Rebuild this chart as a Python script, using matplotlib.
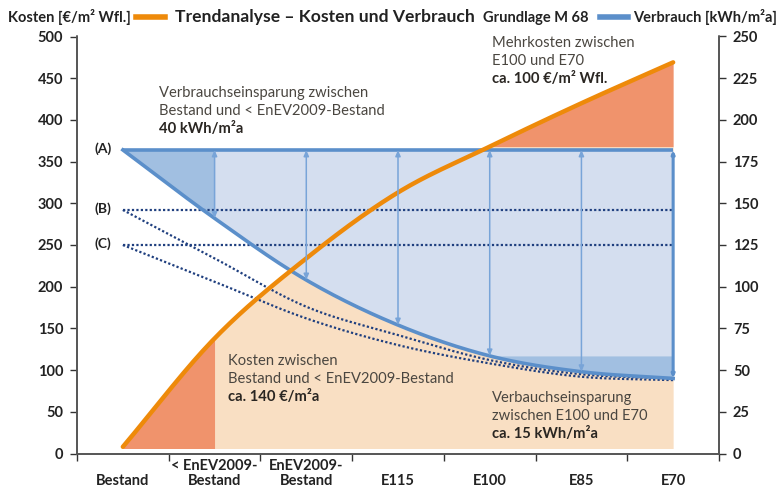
import numpy as np
import matplotlib.pyplot as plt
from matplotlib.lines import Line2D

plt.rcParams['font.family'] = ['Lato', 'DejaVu Sans']

# categories and series
categories = ['\nBestand', '< EnEV2009-\nBestand', 'EnEV2009-\nBestand',
              '\nE115', '\nE100', '\nE85', '\nE70']
kosten = [8, 138, 234, 313, 368, 420, 469]          # €/m² Wfl. (left axis)
verbrauch = [182, 141, 104, 77, 58.5, 49, 45]       # kWh/m²a (right axis)
verbrauch_b = [146, 117, 88, 71, 56, 47.5, 45]      # (B) dotted
verbrauch_c = [125, 103, 81, 65, 54, 46, 44]        # (C) dotted
niveau_a, niveau_b, niveau_c = 182, 146, 125
kosten_basis = 6
left_ticks = [0, 50, 100, 150, 200, 250, 300, 350, 400, 450, 500]
right_ticks = [0, 25, 50, 75, 100, 125, 150, 175, 200, 225, 250]

ORANGE = '#EE8A0A'
SALMON = '#F0936C'
PEACH = '#F9DFC3'
LIGHTBLUE = '#D4DEEF'
DARKBLUE = '#A1BFE1'
BLUE = '#5B8FCA'
ARROW = '#78A4D8'
NAVY = '#1F3F7F'
TXT = '#4A4640'


def smooth(y, n=30):
    # Catmull-Rom through the category points (like Excel's smoothed line)
    x = np.arange(len(y), dtype=float)
    y = np.asarray(y, float)
    px = np.concatenate([[2 * x[0] - x[1]], x, [2 * x[-1] - x[-2]]])
    py = np.concatenate([[2 * y[0] - y[1]], y, [2 * y[-1] - y[-2]]])
    t = np.linspace(0, 1, n, endpoint=False)
    xs, ys = [], []
    for i in range(1, len(px) - 2):
        for arr, out in ((px, xs), (py, ys)):
            p0, p1, p2, p3 = arr[i - 1:i + 3]
            out.append(0.5 * (2 * p1 + (-p0 + p2) * t
                              + (2 * p0 - 5 * p1 + 4 * p2 - p3) * t ** 2
                              + (-p0 + 3 * p1 - 3 * p2 + p3) * t ** 3))
    xs.append([x[-1]])
    ys.append([y[-1]])
    return np.concatenate(xs), np.concatenate(ys)


W, H = 779, 492
fig = plt.figure(figsize=(W / 100, H / 100), dpi=100)
ax = fig.add_axes([77 / W, 1 - 453.5 / H, (719 - 77) / W, (453.5 - 36.5) / H])
ax2 = ax.twinx()

xk, yk = smooth(kosten)
xv, yv = smooth(verbrauch)
xb, yb = smooth(verbrauch_b)
xc, yc = smooth(verbrauch_c)

# cost areas (left axis, drawn underneath)
ax.fill_between(xk, kosten_basis, np.minimum(yk, kosten[4]), where=xk >= 1,
                color=PEACH, lw=0)
ax.fill_between(xk, kosten_basis, yk, where=xk <= 1, color=SALMON, lw=0)
ax.fill_between(xk, kosten[4], yk, where=xk >= 4, color=SALMON, lw=0)

# consumption areas (right axis)
ax2.fill_between(xv, niveau_a, yv, color=LIGHTBLUE, lw=0)
ax2.fill_between(xv, niveau_a, yv, where=xv <= 1, color=DARKBLUE, lw=0)
ax2.fill_between(xv, verbrauch[4], yv, where=xv >= 4, color=DARKBLUE, lw=0)

# dotted comparison lines
for lvl, xx, yy in ((niveau_b, xb, yb), (niveau_c, xc, yc)):
    ax2.plot([0, len(categories) - 1], [lvl, lvl], ls=(0, (1, 1)), color=NAVY, lw=1.6)
    ax2.plot(xx, yy, ls=(0, (1, 1)), color=NAVY, lw=1.6)

# savings arrows
for i in range(1, len(categories)):
    last = i == len(categories) - 1
    ax2.annotate('', xy=(i, verbrauch[i]), xytext=(i, niveau_a),
                 arrowprops=dict(arrowstyle='<|-|>,head_length=0.35,head_width=0.15',
                                 color=BLUE if last else ARROW,
                                 lw=2.2 if last else 1.1, shrinkA=0, shrinkB=0,
                                 mutation_scale=5 if last else 10))

ax2.plot([0, len(categories) - 1], [niveau_a, niveau_a], color=BLUE, lw=2.6,
         solid_capstyle='butt')
ax2.plot(xv, yv, color=BLUE, lw=2.6)
ax2.plot(xk, yk, color=ORANGE, lw=3.2, transform=ax.transData,
         solid_capstyle='round')

for lbl, lvl in (('(A)', niveau_a), ('(B)', niveau_b), ('(C)', niveau_c)):
    ax2.text(-0.22, lvl + 1, lbl, ha='center', va='center', fontsize=10,
             fontweight='bold', color='#222222')

# axes
ax.set_xlim(-0.5, len(categories) - 0.5)
ax.set_ylim(0, 500)
ax2.set_ylim(0, 250)
ax.set_yticks(left_ticks)
ax2.set_yticks(right_ticks)
ax.set_xticks(np.arange(len(categories) + 1) - 0.5)
ax.set_xticklabels([])
ax.set_xticks(np.arange(len(categories)), minor=True)
ax.set_xticklabels(categories, minor=True, fontsize=10.5, fontweight='bold',
                   color='#222222', linespacing=1.05)
ax.tick_params(axis='x', which='minor', length=0, pad=4)
ax.tick_params(axis='x', which='major', length=5, width=1, color='#333333')
for a in (ax, ax2):
    a.tick_params(axis='y', length=5, width=1, color='#333333', labelsize=10.5,
                  labelcolor='#222222', pad=5)
    for lab in a.get_yticklabels():
        lab.set_fontweight('bold')
    a.spines['top'].set_visible(False)
    for s in ('left', 'right', 'bottom'):
        a.spines[s].set_color('#555555')
        a.spines[s].set_linewidth(1.2)
ax.patch.set_visible(False)


# annotations (pixel positions -> figure fractions)
def note(x, y, lines):
    for k, line in enumerate(lines):
        bold = k == len(lines) - 1
        fig.text(x / W, 1 - (y + 18.2 * k) / H, line, fontsize=10.6,
                 fontweight='bold' if bold else 'normal',
                 color='#2A2622' if bold else TXT, va='baseline', ha='left')


note(159, 97, ['Verbrauchseinsparung zwischen', 'Bestand und < EnEV2009-Bestand',
               '40 kWh/m²a'])
note(492, 47, ['Mehrkosten zwischen', 'E100 und E70', 'ca. 100 €/m² Wfl.'])
note(228, 365, ['Kosten zwischen', 'Bestand und < EnEV2009-Bestand',
                'ca. 140 €/m²a'])
note(492, 402, ['Verbauchseinsparung', 'zwischen E100 und E70', 'ca. 15 kWh/m²a'])

# header with legend
hy = 1 - 22 / H
fig.text(8 / W, hy, 'Kosten [€/m² Wfl.]', fontsize=10.5, fontweight='bold',
         color='#222222', va='baseline')
fig.text(175 / W, hy, 'Trendanalyse – Kosten und Verbrauch', fontsize=12.6,
         fontweight='bold', color='#222222', va='baseline')
fig.text(483 / W, hy, 'Grundlage M 68', fontsize=10.5, fontweight='bold',
         color='#222222', va='baseline')
fig.text(633 / W, hy, 'Verbrauch [kWh/m²a]', fontsize=10.5, fontweight='bold',
         color='#222222', va='baseline')
fig.add_artist(Line2D([136 / W, 165 / W], [1 - 17 / H] * 2, color=ORANGE, lw=4))
fig.add_artist(Line2D([600 / W, 628 / W], [1 - 17 / H] * 2, color=BLUE, lw=4))

fig.savefig('out.png', dpi=100)
